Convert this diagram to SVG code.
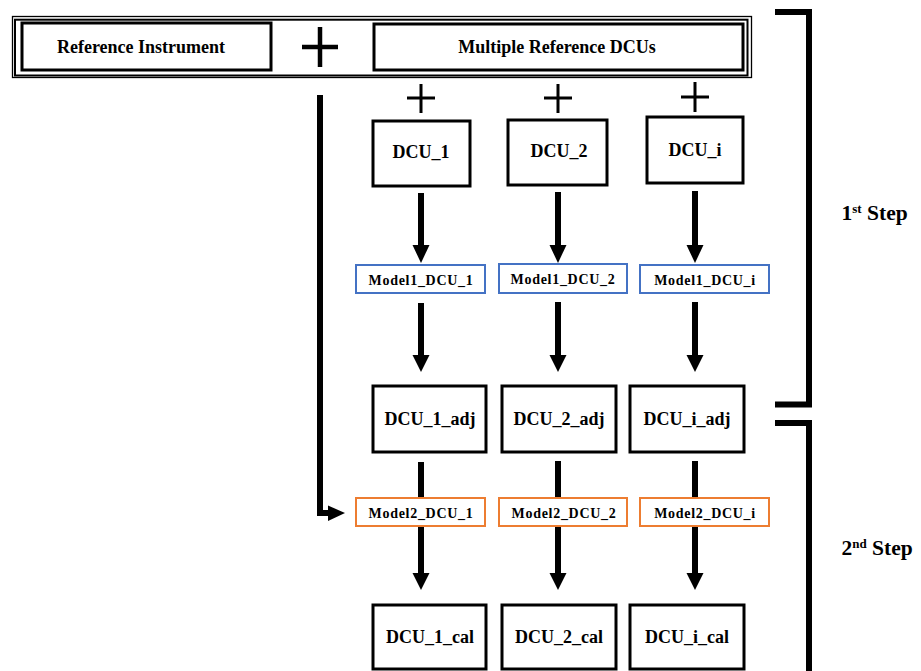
<svg xmlns="http://www.w3.org/2000/svg" width="921" height="671" viewBox="0 0 921 671">
<style>
text{font-family:"Liberation Serif","Times New Roman",serif;font-weight:bold;fill:#000;text-anchor:middle}
.box{fill:#fff;stroke:#000;stroke-width:3}
.m1{fill:#fff;stroke:#4472C4;stroke-width:2}
.m2{fill:#fff;stroke:#ED7D31;stroke-width:2}
.t18{font-size:18px}
.t16{font-size:18px}
.tm{font-size:14px;letter-spacing:0.7px}
.shaft{stroke:#000;stroke-width:6;fill:none}
.head{fill:#000}
.plus{stroke:#000;stroke-width:3;fill:none}
.br{stroke:#000;stroke-width:6;fill:none;stroke-linejoin:miter}
</style>
<rect width="921" height="671" fill="#fff"/>

<g id="header">
<rect x="12.5" y="16.5" width="739" height="61" fill="none" stroke="#000" stroke-width="1.3"/>
<rect x="15" y="19.7" width="732.5" height="55.8" fill="none" stroke="#000" stroke-width="2"/>
</g>
<g id="reference-instrument">
<rect class="box" x="22" y="23" width="249" height="47"/>
<text class="t16" x="141" y="52.5">Reference Instrument</text>
</g>
<g id="plus-main">
<line x1="302" y1="47" x2="338" y2="47" stroke="#000" stroke-width="4.5"/>
<line x1="320" y1="27" x2="320" y2="67" stroke="#000" stroke-width="4.5"/>
</g>
<g id="multiple-reference-dcus">
<rect class="box" x="374" y="24" width="369" height="46"/>
<text class="t16" x="557" y="52.5">Multiple Reference DCUs</text>
</g>

<g id="plus-signs">
<path class="plus" d="M407 98H435M421 84V113"/>
<path class="plus" d="M544 98H572M558 84V113"/>
<path class="plus" d="M681 97H709M695 82V112"/>
</g>

<g id="connectors">
<path class="shaft" d="M320 95V513H331"/>
<polygon class="head" points="328,505.5 345,513 328,521"/>

<line class="shaft" x1="421" y1="193" x2="421" y2="247"/>
<polygon class="head" points="412.5,245 429.5,245 421,263"/>
<line class="shaft" x1="558" y1="192" x2="558" y2="247"/>
<polygon class="head" points="549.5,245 566.5,245 558,263"/>
<line class="shaft" x1="695" y1="191" x2="695" y2="247"/>
<polygon class="head" points="686.5,245 703.5,245 695,263"/>

<line class="shaft" x1="421" y1="303" x2="421" y2="357"/>
<polygon class="head" points="412.5,355 429.5,355 421,372"/>
<line class="shaft" x1="558" y1="302" x2="558" y2="357"/>
<polygon class="head" points="549.5,355 566.5,355 558,372"/>
<line class="shaft" x1="695" y1="302" x2="695" y2="357"/>
<polygon class="head" points="686.5,355 703.5,355 695,372"/>

<line class="shaft" x1="421" y1="462" x2="421" y2="575"/>
<polygon class="head" points="412.5,573 429.5,573 421,590"/>
<line class="shaft" x1="558" y1="461" x2="558" y2="575"/>
<polygon class="head" points="549.5,573 566.5,573 558,590"/>
<line class="shaft" x1="695" y1="461" x2="695" y2="575"/>
<polygon class="head" points="686.5,573 703.5,573 695,590"/>
</g>

<g id="dcu-1"><rect class="box" x="373" y="121" width="97" height="65"/><text class="t18" x="421" y="157.5">DCU_1</text></g>
<g id="dcu-2"><rect class="box" x="508" y="120" width="99" height="65"/><text class="t18" x="559" y="157">DCU_2</text></g>
<g id="dcu-i"><rect class="box" x="647" y="117" width="96" height="66"/><text class="t18" x="695" y="156">DCU_i</text></g>

<g id="model1-dcu-1"><rect class="m1" x="356" y="265" width="129" height="28"/><text class="tm" x="421" y="284.5">Model1_DCU_1</text></g>
<g id="model1-dcu-2"><rect class="m1" x="499" y="264" width="128" height="29"/><text class="tm" x="563" y="284">Model1_DCU_2</text></g>
<g id="model1-dcu-i"><rect class="m1" x="640" y="265" width="129" height="28"/><text class="tm" x="705" y="284.5">Model1_DCU_i</text></g>

<g id="dcu-1-adj"><rect class="box" x="373" y="386" width="113" height="66"/><text class="t18" x="430" y="425">DCU_1_adj</text></g>
<g id="dcu-2-adj"><rect class="box" x="502" y="386" width="114" height="66"/><text class="t18" x="559" y="425">DCU_2_adj</text></g>
<g id="dcu-i-adj"><rect class="box" x="630" y="386" width="114" height="66"/><text class="t18" x="687" y="425">DCU_i_adj</text></g>

<g id="model2-dcu-1"><rect class="m2" x="356" y="498" width="129" height="28"/><text class="tm" x="421" y="518">Model2_DCU_1</text></g>
<g id="model2-dcu-2"><rect class="m2" x="499" y="498" width="128" height="28"/><text class="tm" x="564" y="518">Model2_DCU_2</text></g>
<g id="model2-dcu-i"><rect class="m2" x="640" y="498" width="129" height="28"/><text class="tm" x="705" y="518">Model2_DCU_i</text></g>

<g id="dcu-1-cal"><rect class="box" x="373" y="605" width="113" height="64"/><text class="t18" x="430" y="643">DCU_1_cal</text></g>
<g id="dcu-2-cal"><rect class="box" x="502" y="605" width="114" height="64"/><text class="t18" x="559" y="643">DCU_2_cal</text></g>
<g id="dcu-i-cal"><rect class="box" x="630" y="605" width="114" height="64"/><text class="t18" x="687" y="643">DCU_i_cal</text></g>

<g id="step-1">
<path class="br" d="M775 12H809V404.5H775"/>
<text x="841.5" y="220" style="text-anchor:start;font-size:21.5px">1<tspan font-size="13px" dy="-7.5">st</tspan><tspan dy="7.5"> Step</tspan></text>
</g>
<g id="step-2">
<path class="br" d="M775 423H809V675"/>
<text x="841.5" y="555" style="text-anchor:start;font-size:21.5px">2<tspan font-size="13px" dy="-7.5">nd</tspan><tspan dy="7.5">  Step</tspan></text>
</g>
</svg>
